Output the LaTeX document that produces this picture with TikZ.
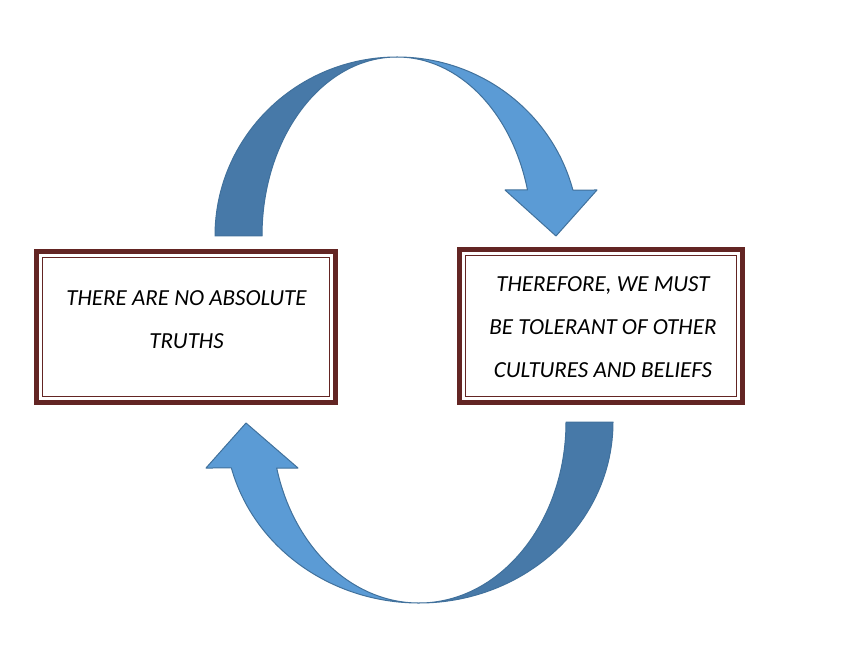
\documentclass[tikz,border=0pt]{standalone}
\usepackage{fontspec}
\setmainfont{Carlito}
\usetikzlibrary{calc}
\definecolor{arrowdark}{RGB}{71,121,168}
\definecolor{arrowlight}{RGB}{91,155,213}
\definecolor{arrowline}{RGB}{65,113,156}
\definecolor{boxred}{RGB}{99,37,35}
\tikzset{
  arrowpart/.style={draw=arrowline, line width=1pt, line join=round},
  darkpart/.style={arrowpart, fill=arrowdark},
  lightpart/.style={arrowpart, fill=arrowlight},
  outerbox/.style={draw=boxred, line width=5pt, fill=white, inner sep=0pt, outer sep=0pt},
  innerline/.style={draw=boxred, line width=1.8pt},
  boxtext/.style={inner sep=0pt, align=center, anchor=north,
    font=\fontsize{23}{43}\selectfont\itshape}
}
\begin{document}
\begin{tikzpicture}[x=1pt,y=1pt]
\useasboundingbox (0,0) rectangle (848,649);
% top curved arrow (center 397,413)
\draw[darkpart] (215,413) arc[start angle=180,end angle=90,x radius=182,y radius=179]
  arc[start angle=90,end angle=180,x radius=135,y radius=179] -- cycle;
\draw[lightpart] (397,592) arc[start angle=90,end angle=14.89,x radius=182,y radius=179]
  -- (597,459) -- (556,413) -- (505,459) -- (527.5,459)
  arc[start angle=14.89,end angle=90,x radius=135,y radius=179] -- cycle;
% bottom curved arrow (center 419,227)
\draw[darkpart] (613,227) arc[start angle=0,end angle=-90,x radius=194,y radius=181]
  arc[start angle=-90,end angle=0,x radius=147,y radius=181] -- cycle;
\draw[lightpart] (419,46) arc[start angle=-90,end angle=-165.28,x radius=194,y radius=181]
  -- (206,181) -- (246,226) -- (298,181) -- (276.7,181)
  arc[start angle=-165.28,end angle=-90,x radius=147,y radius=181] -- cycle;
% boxes
\node[outerbox, minimum width=299pt, minimum height=151pt] (lbox) at (186,322) {};
\draw[innerline] ($(lbox.north west)+(6,-6)$) rectangle ($(lbox.south east)+(-6,6)$);
\node[outerbox, minimum width=283pt, minimum height=153pt] (rbox) at (601,323) {};
\draw[innerline] ($(rbox.north west)+(6,-6)$) rectangle ($(rbox.south east)+(-6,6)$);
\node[boxtext] (ltext) at (186.5,358.5) {THERE ARE NO ABSOLUTE\\TRUTHS};
\node[boxtext] (rtext) at (603,372.5) {THEREFORE, WE MUST\\BE TOLERANT OF OTHER\\CULTURES AND BELIEFS};
\end{tikzpicture}
\end{document}
